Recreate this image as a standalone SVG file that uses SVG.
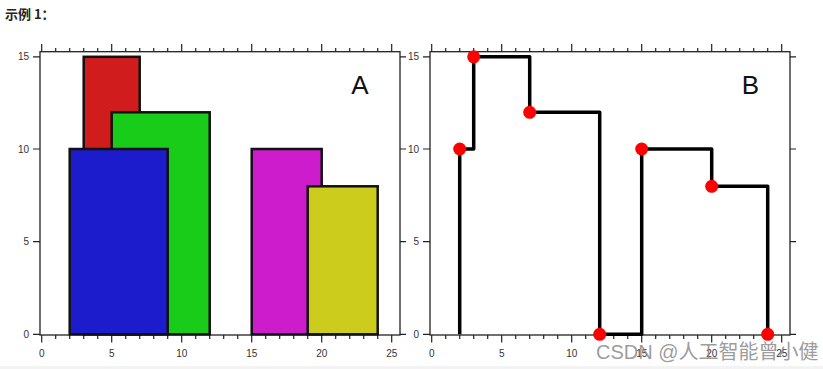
<svg xmlns="http://www.w3.org/2000/svg" width="823" height="369" viewBox="0 0 823 369">
<style>
.frame{fill:none;stroke:#222;stroke-width:1.3}
.tick{fill:none;stroke:#222;stroke-width:1.2}
.lbl{font-family:"Liberation Sans",Arial,sans-serif;font-size:10px;fill:#333}
.big{font-family:"Liberation Sans",Arial,sans-serif;font-size:26px;fill:#111;text-anchor:middle}
.bar{stroke:#111;stroke-width:2.5}
.dot{fill:#f00}
</style>
<rect x="0" y="0" width="823" height="369" fill="#fff"/>
<rect x="0" y="366" width="823" height="3" fill="#f3f3f3"/>
<text x="5" y="19" font-family="'Noto Sans CJK SC','Liberation Sans',sans-serif" font-size="13" font-weight="bold" fill="#222">示例 1：</text>

<g id="chartA">
  <rect class="frame" x="40" y="51.7" width="360" height="283.3"/>
  <path class="tick" d="M41.7 44V51.7M111.7 44V51.7M181.7 44V51.7M251.7 44V51.7M321.7 44V51.7M391.7 44V51.7
  M55.7 48V51.7M69.7 48V51.7M83.7 48V51.7M97.7 48V51.7M125.7 48V51.7M139.7 48V51.7M153.7 48V51.7M167.7 48V51.7M195.7 48V51.7M209.7 48V51.7M223.7 48V51.7M237.7 48V51.7M265.7 48V51.7M279.7 48V51.7M293.7 48V51.7M307.7 48V51.7M335.7 48V51.7M349.7 48V51.7M363.7 48V51.7M377.7 48V51.7
  M41.7 335V342.5M111.7 335V342.5M181.7 335V342.5M251.7 335V342.5M321.7 335V342.5M391.7 335V342.5
  M55.7 335V339M69.7 335V339M83.7 335V339M97.7 335V339M125.7 335V339M139.7 335V339M153.7 335V339M167.7 335V339M195.7 335V339M209.7 335V339M223.7 335V339M237.7 335V339M265.7 335V339M279.7 335V339M293.7 335V339M307.7 335V339M335.7 335V339M349.7 335V339M363.7 335V339M377.7 335V339
  M33 334.3H40M33 241.7H40M33 149H40M33 56.8H40
  M400 334.3H406M400 241.7H406M400 149H406M400 56.8H406"/>
  <g class="lbl" text-anchor="end">
    <text x="29" y="338">0</text>
    <text x="29" y="245.3">5</text>
    <text x="29" y="152.6">10</text>
    <text x="29" y="60.4">15</text>
  </g>
  <g class="lbl" text-anchor="middle">
    <text x="41.7" y="356.5">0</text>
    <text x="111.7" y="356.5">5</text>
    <text x="181.7" y="356.5">10</text>
    <text x="251.7" y="356.5">15</text>
    <text x="321.7" y="356.5">20</text>
    <text x="391.7" y="356.5">25</text>
  </g>
  <rect class="bar" x="83.7" y="56.8" width="56" height="277.5" fill="#d01c1c"/>
  <rect class="bar" x="111.7" y="112.3" width="98" height="222" fill="#1acc1a"/>
  <rect class="bar" x="69.7" y="149" width="98" height="185.3" fill="#1c1ccc"/>
  <rect class="bar" x="251.7" y="149" width="70" height="185.3" fill="#cc1ccc"/>
  <rect class="bar" x="307.7" y="186.3" width="70" height="148" fill="#cccc1c"/>
  <text class="big" x="360" y="94">A</text>
</g>

<g id="chartB">
  <rect class="frame" x="430" y="51.7" width="360" height="283.3"/>
  <path class="tick" d="M431.7 44V51.7M501.7 44V51.7M571.7 44V51.7M641.7 44V51.7M711.7 44V51.7M781.7 44V51.7
  M445.7 48V51.7M459.7 48V51.7M473.7 48V51.7M487.7 48V51.7M515.7 48V51.7M529.7 48V51.7M543.7 48V51.7M557.7 48V51.7M585.7 48V51.7M599.7 48V51.7M613.7 48V51.7M627.7 48V51.7M655.7 48V51.7M669.7 48V51.7M683.7 48V51.7M697.7 48V51.7M725.7 48V51.7M739.7 48V51.7M753.7 48V51.7M767.7 48V51.7
  M431.7 335V342.5M501.7 335V342.5M571.7 335V342.5M641.7 335V342.5M711.7 335V342.5M781.7 335V342.5
  M445.7 335V339M459.7 335V339M473.7 335V339M487.7 335V339M515.7 335V339M529.7 335V339M543.7 335V339M557.7 335V339M585.7 335V339M599.7 335V339M613.7 335V339M627.7 335V339M655.7 335V339M669.7 335V339M683.7 335V339M697.7 335V339M725.7 335V339M739.7 335V339M753.7 335V339M767.7 335V339
  M423 334.3H430M423 241.7H430M423 149H430M423 56.8H430
  M790 334.3H796M790 241.7H796M790 149H796M790 56.8H796"/>
  <g class="lbl" text-anchor="end">
    <text x="419" y="338">0</text>
    <text x="419" y="245.3">5</text>
    <text x="419" y="152.6">10</text>
    <text x="419" y="60.4">15</text>
  </g>
  <g class="lbl" text-anchor="middle">
    <text x="431.7" y="356.5">0</text>
    <text x="501.7" y="356.5">5</text>
    <text x="571.7" y="356.5">10</text>
    <text x="641.7" y="356.5">15</text>
    <text x="711.7" y="356.5">20</text>
    <text x="781.7" y="356.5">25</text>
  </g>
  <path d="M459.7 334.3V149H473.7V56.8H529.7V112.3H599.7V334.3H641.7V149H711.7V186.3H767.7V334.3" fill="none" stroke="#000" stroke-width="3.5" stroke-linejoin="round"/>
  <g class="dot">
    <circle cx="459.7" cy="149" r="6.5"/>
    <circle cx="473.7" cy="56.8" r="6.5"/>
    <circle cx="529.7" cy="112.3" r="6.5"/>
    <circle cx="599.7" cy="334.3" r="6.5"/>
    <circle cx="641.7" cy="149" r="6.5"/>
    <circle cx="711.7" cy="186.3" r="6.5"/>
    <circle cx="767.7" cy="334.3" r="6.5"/>
  </g>
  <text class="big" x="750.5" y="94">B</text>
</g>

<text x="596" y="358.5" font-family="'Liberation Sans','Noto Sans CJK SC',sans-serif" font-size="20" fill="#8a8a8a" fill-opacity="0.85">CSDN @人工智能曾小健</text>
</svg>
